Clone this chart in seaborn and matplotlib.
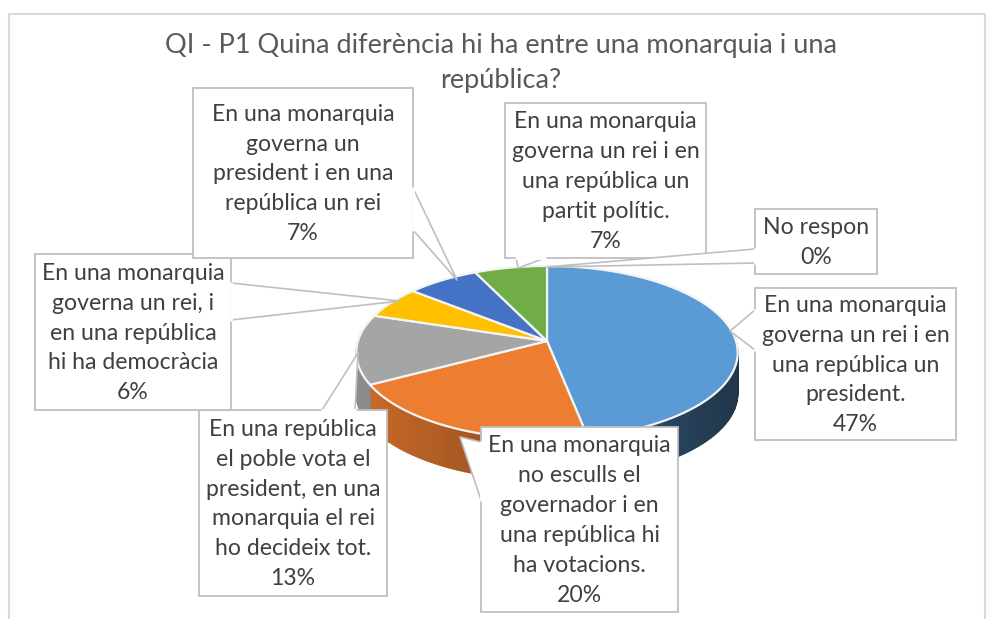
"""3D style pie of the answers to question P1."""

import matplotlib.pyplot as plt
import numpy as np
import seaborn as sns

title = "QI - P1 Quina diferència hi ha entre una monarquia i una\nrepública?"

labels = [
    "En una monarquia\ngoverna un rei i en\nuna república un\npresident.",
    "En una monarquia\nno esculls el\ngovernador i en\nuna república hi\nha votacions.",
    "En una república\nel poble vota el\npresident, en una\nmonarquia el rei\nho decideix tot.",
    "En una monarquia\ngoverna un rei, i\nen una república\nhi ha democràcia",
    "En una monarquia\ngoverna un\npresident i en una\nrepública un rei",
    "En una monarquia\ngoverna un rei i en\nuna república un\npartit polític.",
    "No respon",
]
values = [47, 20, 13, 6, 7, 7, 0]
colors = ["#5B9BD5", "#ED7D31", "#A5A5A5", "#FFC000", "#4472C4", "#70AD47", "#264478"]

# box: left, top, right, bottom / callout: base point, base point, tip (pixels)
boxes = [
    (755, 288, 956, 440),
    (481, 427, 678, 612),
    (199, 410, 387, 596),
    (35, 254, 231, 410),
    (193, 88, 413, 258),
    (505, 103, 706, 258),
    (755, 209, 877, 274),
]
callouts = [
    ((755, 310), (755, 350), (730, 331)),
    ((481, 442), (481, 500), (460, 437)),
    ((322, 410), (355, 410), (358, 353)),
    ((231, 283), (231, 320), (400, 301)),
    ((413, 188), (413, 230), (457, 280)),
    ((516, 258), (545, 258), (518, 268)),
    ((755, 249), (755, 263), (547, 267)),
]

CX, CY = 547, 341
RX, RY, TILT = 189, 85, 0.133
DEPTH = 41
FONT = "Lato"

sns.set_theme(style="white")
plt.rcParams["font.family"] = [FONT, "DejaVu Sans"]


def rim(theta):
    # clockwise from the top, with the far side of the disc a little smaller
    scale = 1 + TILT * np.cos(theta)
    return CX + RX * np.sin(theta) / scale, CY - RY * np.cos(theta) / scale


def shade(color, x):
    t = (x - (CX - RX)) / (2 * RX)
    return np.array(color) * (0.85 - 0.5 * t)


fig = plt.figure(figsize=(9.92, 6.19), dpi=100)
ax = fig.add_axes([0, 0, 1, 1])
ax.set_xlim(0, 992)
ax.set_ylim(619, 0)
ax.axis("off")

ax.plot([9, 9, 985, 985], [619, 14, 14, 619], color="#d9d9d9", lw=1.5)

palette = sns.color_palette(colors)
edges = 2 * np.pi * np.cumsum([0] + values) / sum(values)

# side wall
for start, end, color in zip(edges[:-1], edges[1:], palette):
    steps = np.arange(start, end + 0.02, 0.02)
    steps = steps[np.cos(steps) < 0.1]
    for a, b in zip(steps[:-1], steps[1:]):
        xa, ya = rim(a)
        xb, yb = rim(b)
        c = shade(color, (xa + xb) / 2)
        ax.fill([xa, xb, xb, xa], [ya, yb, yb + DEPTH, ya + DEPTH],
                color=c, lw=1, zorder=1)

# top of the disc
for start, end, color in zip(edges[:-1], edges[1:], palette):
    if end <= start:
        continue
    theta = np.linspace(start, end, 120)
    x, y = rim(theta)
    ax.fill(np.r_[CX, x], np.r_[CY, y], facecolor=color, edgecolor="#f4f4f4",
            lw=1.6, joinstyle="round", zorder=2)

# callouts and labels
for label, value, box, call in zip(labels, values, boxes, callouts):
    left, top, right, bottom = box
    ax.fill([left, right, right, left], [top, top, bottom, bottom],
            facecolor="white", edgecolor="#bfbfbf", lw=1.3, zorder=3)
    (x0, y0), (x1, y1), (x2, y2) = call
    ax.fill([x0, x2, x1], [y0, y2, y1], facecolor="white", edgecolor="none", zorder=3)
    ax.plot([x0, x2, x1], [y0, y2, y1], color="#bfbfbf", lw=1.2, zorder=3)
    ax.plot([x0, x1], [y0, y1], color="white", lw=2, zorder=3)
    ax.text((left + right) / 2, (top + bottom) / 2 + 1, f"{label}\n{value}%",
            ha="center", va="center", fontsize=16.6, linespacing=1.52,
            color="#404040", zorder=4)

ax.text(501, 63, title, ha="center", va="center", fontsize=19.5, linespacing=1.5,
        color="#595959")

fig.savefig("out.png", dpi=100)
